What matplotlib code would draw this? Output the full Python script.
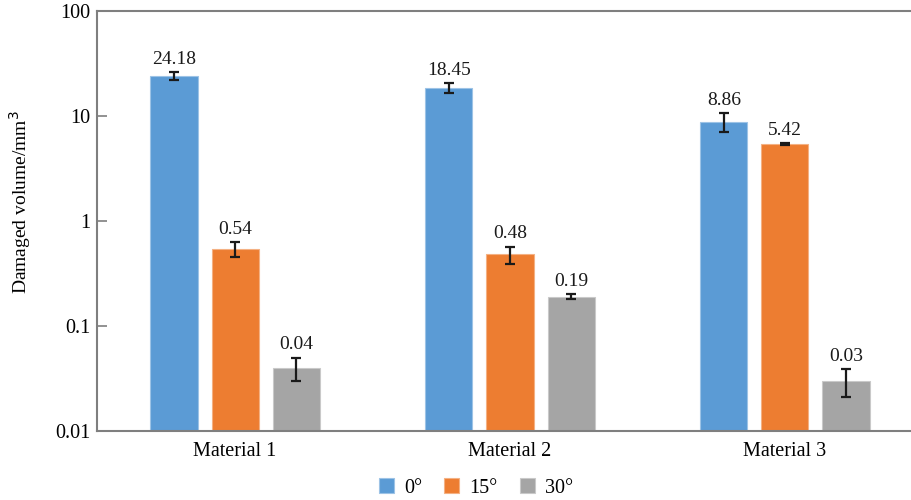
import matplotlib
matplotlib.use("Agg")
import matplotlib.pyplot as plt
from matplotlib.ticker import FixedLocator, FixedFormatter, NullLocator
import numpy as np

plt.rcParams['font.family'] = ['Liberation Serif', 'DejaVu Serif']

materials = ["Material 1", "Material 2", "Material 3"]
angles = ["0°", "15°", "30°"]
volume_0 = [24.18, 18.45, 8.86]
volume_15 = [0.54, 0.48, 5.42]
volume_30 = [0.04, 0.19, 0.03]
err_0 = [2.0, 2.0, 1.8]
err_15 = [0.09, 0.09, 0.08]
err_30 = [0.010, 0.010, 0.009]
y_ticks = [0.01, 0.1, 1, 10, 100]
y_tick_labels = ["0.01", "0.1", "1", "10", "100"]

colors = ["#5B9BD5", "#ED7D31", "#A5A5A5"]
edge_colors = ["#9DC3E6", "#F4B183", "#C9C9C9"]

fig = plt.figure(figsize=(9.12, 5.0), dpi=100)
ax = fig.add_axes([97 / 912, 69 / 500, 815 / 912, 420 / 500])

x = np.arange(len(materials))
width = 0.171
step = 0.222
series = [(volume_0, err_0), (volume_15, err_15), (volume_30, err_30)]
for i, (vals, errs) in enumerate(series):
    pos = x + (i - 1) * step
    ax.bar(pos, vals, width, color=colors[i], edgecolor=edge_colors[i],
           linewidth=0.8, label=angles[i], zorder=2)
    ax.errorbar(pos, vals, yerr=errs, fmt='none', ecolor='#1a1a1a',
                elinewidth=1.6, capsize=3.5, capthick=1.6, zorder=3)
    for p, v, e in zip(pos, vals, errs):
        ax.annotate(f"{v:.2f}", xy=(p, v + e), xytext=(0, 3),
                    textcoords='offset points', ha='center', va='bottom',
                    fontsize=14, color='#1a1a1a')

ax.set_yscale('log')
ax.set_ylim(0.01, 100)
ax.set_xlim(-0.502, 2.462)
ax.yaxis.set_major_locator(FixedLocator(y_ticks))
ax.yaxis.set_major_formatter(FixedFormatter(y_tick_labels))
ax.yaxis.set_minor_locator(NullLocator())
ax.set_xticks(x)
ax.set_xticklabels(materials)

ax.tick_params(axis='y', direction='in', length=7, width=1.2, color='#7f7f7f',
               labelsize=14.5, pad=5)
ax.tick_params(axis='x', length=0, labelsize=14.5, pad=8)

for s in ['left', 'bottom', 'top']:
    ax.spines[s].set_color('#7f7f7f')
    ax.spines[s].set_linewidth(1.5)
ax.spines['right'].set_visible(False)

ax.set_ylabel("Damaged volume/mm$^3$", fontsize=14)
ax.yaxis.set_label_coords(-0.078, 0.545)

fig.legend(loc='center', bbox_to_anchor=(476 / 912, 1 - 488 / 500), ncol=3,
           frameon=False, fontsize=14.5, handlelength=0.75, handleheight=0.75,
           columnspacing=1.1, handletextpad=0.5)

fig.savefig("out.png", dpi=100)
